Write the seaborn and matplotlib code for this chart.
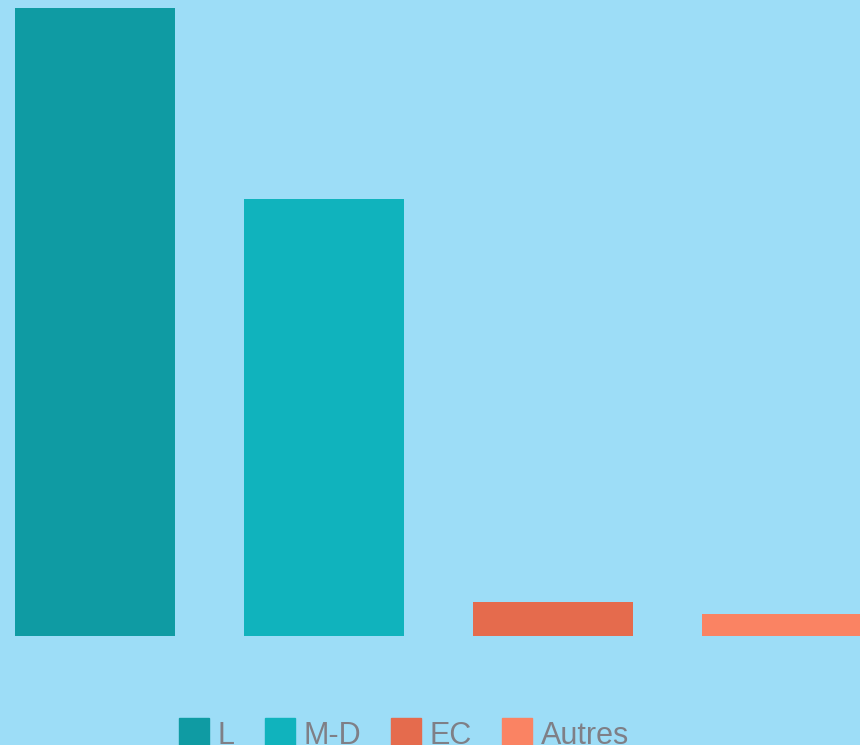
import pandas as pd
import seaborn as sns
import matplotlib.pyplot as plt
from matplotlib.lines import Line2D

# Données
partis = ["L", "M-D", "EC", "Autres"]
voix = [56, 39, 3, 2]
couleurs = ["#0F9BA3", "#10B3BD", "#E56B4D", "#FA8363"]
fond = "#9DDDF7"

df = pd.DataFrame({"Parti": partis, "Voix": voix})

sns.set_theme(style="white")
plt.rcParams["font.family"] = ["Liberation Sans", "DejaVu Sans"]

fig = plt.figure(figsize=(8.6, 7.45), dpi=100)
fig.patch.set_facecolor(fond)
ax = fig.add_axes([0, 109 / 745, 1, 636 / 745])
ax.set_facecolor(fond)

sns.barplot(data=df, x="Parti", y="Voix", hue="Parti", palette=couleurs,
            width=0.7, dodge=False, legend=False, linewidth=0,
            saturation=1, ax=ax)

ax.set_xlim(-0.4155, 3.34)
ax.set_ylim(0, 56 * 636.5 / 628.5)
ax.axis("off")

# Légende en bas
poignees = [Line2D([0], [0], marker="s", linestyle="", markersize=21,
                   markerfacecolor=c, markeredgecolor=c) for c in couleurs]
fig.legend(poignees, partis, loc="center", bbox_to_anchor=(0.47, 0.012),
           ncol=4, frameon=False, fontsize=22, labelcolor="#7F7F86",
           handlelength=0.95, handletextpad=0.3, columnspacing=1.0,
           borderpad=0)

fig.savefig("out.png", dpi=100, facecolor=fond)
